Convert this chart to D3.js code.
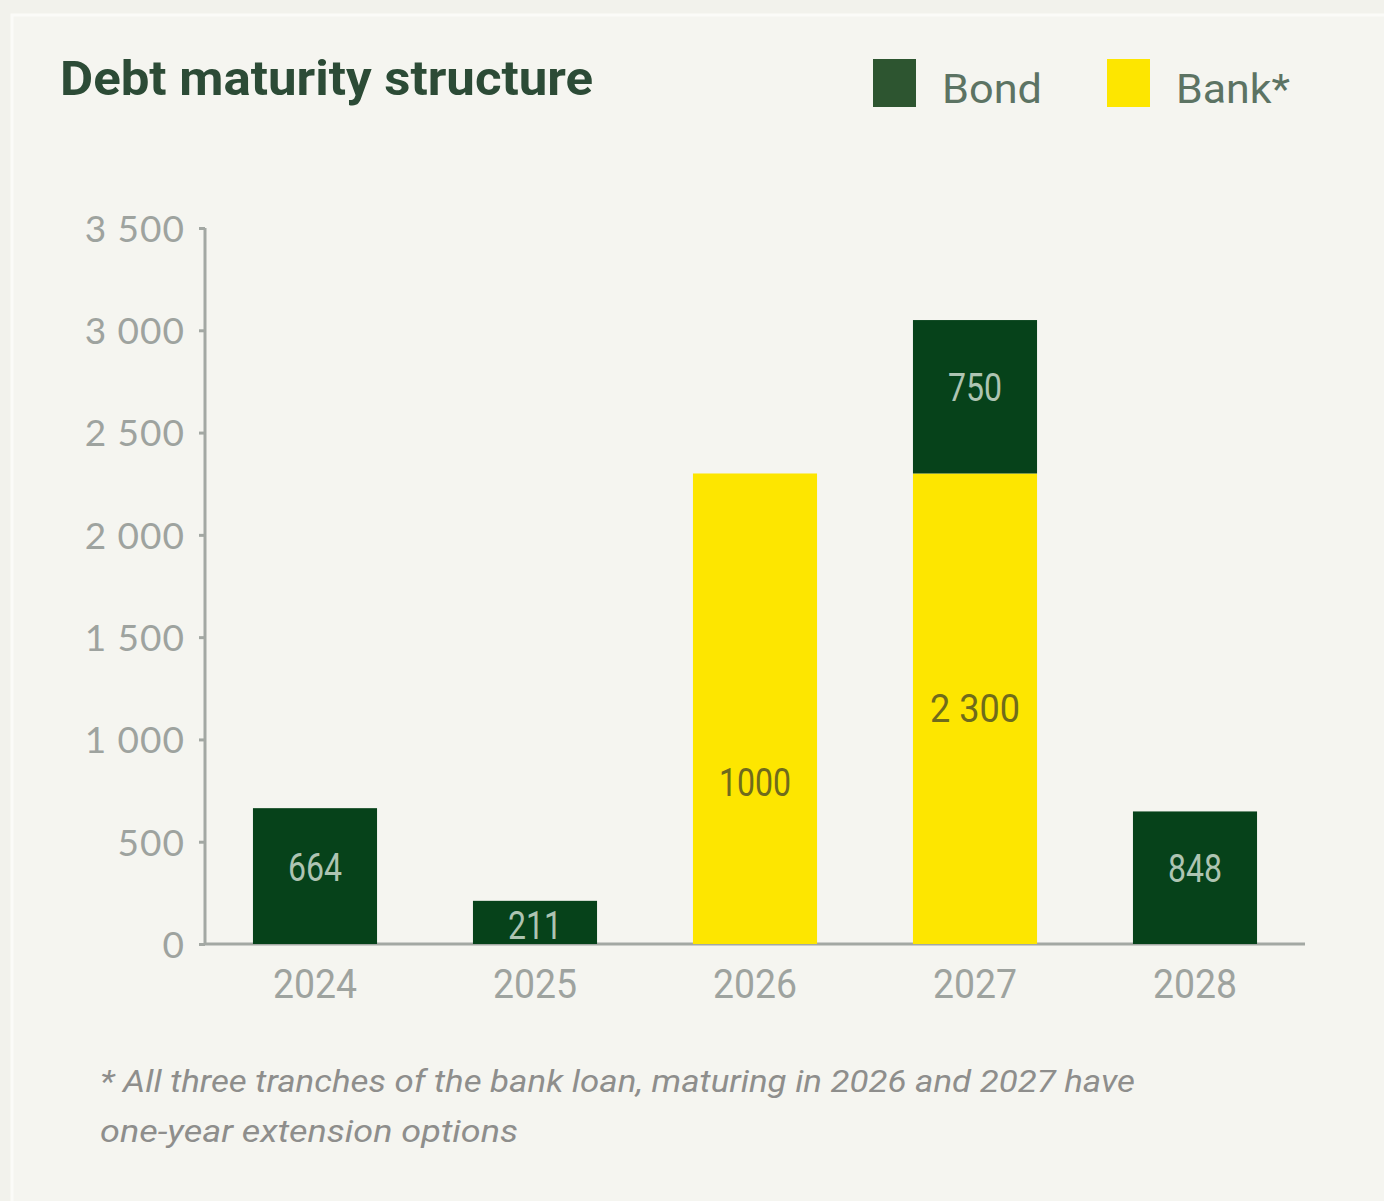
<!DOCTYPE html>
<html>
<head>
<meta charset="utf-8">
<script src="https://cdn.jsdelivr.net/npm/d3@7"></script>
<style>
  html, body { margin: 0; padding: 0; background: #f2f2ec; }
  svg { display: block; }
</style>
</head>
<body>
<div id="chart"></div>
<script>
// data
var years = ["2024", "2025", "2026", "2027", "2028"];
var bondValues = [664, 211, 0, 750, 648];
var bankValues = [0, 0, 2300, 2300, 0];
var bondLabels = ["664", "211", "", "750", "848"];
var bankLabels = ["", "", "1000", "2 300", ""];
// where the bank label sits (in data units, the 2026 one is not centred)
var bankLabelAt = [0, 0, 790, 1150, 0];
var yTicks = [0, 500, 1000, 1500, 2000, 2500, 3000, 3500];
var yTickLabels = ["0", "500", "1 000", "1 500", "2 000", "2 500", "3 000", "3 500"];
var footnote = ["* All three tranches of the bank loan, maturing in 2026 and 2027 have",
                "one-year extension options"];

var W = 1384, H = 1201;
var BOND = "#06421a", BANK = "#fde600";

var svg = d3.select("#chart").append("svg").attr("width", W).attr("height", H);

svg.append("rect").attr("width", W).attr("height", H).attr("fill", "#f2f2ec");
svg.append("rect").attr("x", 12).attr("y", 15).attr("width", W).attr("height", H)
   .attr("fill", "#f5f5f0").attr("stroke", "#fbfbf8").attr("stroke-width", 3);

var x = d3.scaleBand().domain(years).range([205, 1305]).paddingInner(0.436).paddingOuter(0.218);
var y = d3.scaleLinear().domain([0, 3500]).range([944, 228]);

// title
svg.append("text").attr("x", 60).attr("y", 95)
   .attr("font-family", "Roboto, sans-serif").attr("font-weight", 700).attr("font-size", 48)
   .attr("fill", "#2c4b36").attr("textLength", 533).attr("lengthAdjust", "spacingAndGlyphs")
   .text("Debt maturity structure");

// legend
var legend = [{name: "Bond", color: "#2d5530", x: 873, w: 100}, {name: "Bank*", color: BANK, x: 1107, w: 114}];
var lg = svg.selectAll("g.lg").data(legend).enter().append("g").attr("class", "lg");
lg.append("rect").attr("x", function(d){ return d.x; }).attr("y", 59).attr("width", 43).attr("height", 48)
  .attr("fill", function(d){ return d.color; });
lg.append("text").attr("x", function(d){ return d.x + 69; }).attr("y", 103)
  .attr("font-family", "Roboto, sans-serif").attr("font-size", 41).attr("fill", "#5c7363")
  .attr("textLength", function(d){ return d.w; }).attr("lengthAdjust", "spacingAndGlyphs")
  .text(function(d){ return d.name; });

// y axis
var yAxis = d3.axisLeft(y).tickValues(yTicks).tickSize(6).tickPadding(14)
  .tickFormat(function(d, i){ return yTickLabels[i]; });
var gy = svg.append("g").attr("transform", "translate(205,0)").call(yAxis);
gy.select(".domain").attr("stroke", "#a3a8a3").attr("stroke-width", 3).attr("d", "M0,228V944");
gy.selectAll(".tick line").attr("stroke", "#a3a8a3").attr("stroke-width", 3);
gy.selectAll(".tick text").attr("font-family", "Lato, sans-serif").attr("font-size", 37)
  .attr("fill", "#9ea39f").attr("letter-spacing", 1).attr("dy", "0.36em");

// x axis
var xAxis = d3.axisBottom(x).tickSize(0).tickPadding(26);
var gx = svg.append("g").attr("transform", "translate(0,944)").call(xAxis);
gx.select(".domain").attr("stroke", "#a3a8a3").attr("stroke-width", 3).attr("d", "M205,0H1305");
gx.selectAll(".tick text").attr("font-family", "Roboto, sans-serif").attr("font-size", 40)
  .attr("fill", "#9ea39f").attr("textLength", 84).attr("lengthAdjust", "spacingAndGlyphs");

// stacked bars: bank at bottom, bond on top
var rows = years.map(function(yr, i){
  return {year: yr, bank: bankValues[i], bond: bondValues[i], i: i};
});
var stack = d3.stack().keys(["bank", "bond"])(rows);
var colors = {bank: BANK, bond: BOND};

svg.append("g").selectAll("g").data(stack).enter().append("g")
  .attr("fill", function(s){ return colors[s.key]; })
  .selectAll("rect").data(function(s){ return s; }).enter().append("rect")
  .attr("x", function(d){ return x(d.data.year); })
  .attr("width", x.bandwidth())
  .attr("y", function(d){ return y(d[1]); })
  .attr("height", function(d){ return y(d[0]) - y(d[1]); });

// labels
var lab = svg.append("g").attr("font-family", "Roboto, sans-serif").attr("font-size", 38)
  .attr("text-anchor", "middle");
stack.forEach(function(s){
  s.forEach(function(d, i){
    var txt = s.key === "bond" ? bondLabels[i] : bankLabels[i];
    if (!txt) return;
    var h = y(d[0]) - y(d[1]);
    var ymid = s.key === "bank" ? y(bankLabelAt[i]) : (y(d[0]) + y(d[1])) / 2 + (h > 100 ? -9 : 3);
    lab.append("text")
      .attr("x", x(d.data.year) + x.bandwidth() / 2)
      .attr("y", ymid)
      .attr("dy", "0.36em")
      .attr("fill", s.key === "bond" ? "#aec4b2" : "#6f6b1c")
      .attr("textLength", txt.length * 18).attr("lengthAdjust", "spacingAndGlyphs")
      .text(txt);
  });
});

// footnote
var fn = svg.append("g").attr("font-family", "Roboto, sans-serif").attr("font-style", "italic")
  .attr("font-size", 31).attr("fill", "#8e8e8c").attr("lengthAdjust", "spacingAndGlyphs");
fn.append("text").attr("x", 100).attr("y", 1092).attr("textLength", 1035)
  .attr("lengthAdjust", "spacingAndGlyphs").text(footnote[0]);
fn.append("text").attr("x", 100).attr("y", 1142).attr("textLength", 418)
  .attr("lengthAdjust", "spacingAndGlyphs").text(footnote[1]);
</script>
</body>
</html>
